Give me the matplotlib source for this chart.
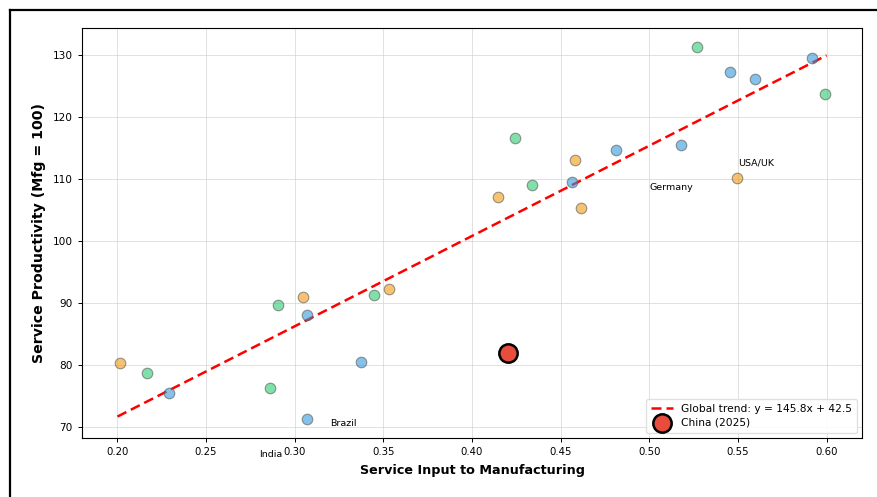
import matplotlib
matplotlib.use("Agg")
import matplotlib.pyplot as plt
import numpy as np
from matplotlib.lines import Line2D

# service input share vs. relative service productivity, by group
blue_x = [0.229, 0.307, 0.307, 0.3375, 0.4565, 0.481, 0.518, 0.5457, 0.5594, 0.592]
blue_y = [75.5, 88.0, 71.3, 80.4, 109.5, 114.7, 115.5, 127.3, 126.1, 129.6]

green_x = [0.2164, 0.2859, 0.2905, 0.3445, 0.4244, 0.4336, 0.5269, 0.5993]
green_y = [78.7, 76.3, 89.6, 91.3, 116.7, 109.0, 131.4, 123.8]

orange_x = [0.2015, 0.3044, 0.3533, 0.4144, 0.4579, 0.4614, 0.5496]
orange_y = [80.3, 90.9, 92.2, 107.05, 113.1, 105.4, 110.1]

china_x, china_y = 0.42, 82.0

slope, intercept = 145.8, 42.5
trend_x = [0.20, 0.60]

labels = ["USA/UK", "Germany", "Brazil", "India"]
label_pos = [(0.55, 112.6), (0.50, 108.6), (0.32, 70.6), (0.28, 65.6)]

fig = plt.figure(figsize=(8.77, 4.97), dpi=100)
ax = fig.add_axes([0.0935, 0.1187, 0.8895, 0.825])

ax.grid(True, color='#cccccc', alpha=0.6, linewidth=0.7)
ax.set_axisbelow(True)

for xs, ys, c in [(blue_x, blue_y, '#3498db'),
                  (green_x, green_y, '#2ecc71'),
                  (orange_x, orange_y, '#f39c12')]:
    ax.scatter(xs, ys, s=58, color=c, alpha=0.6, edgecolors='#555555',
               linewidths=0.8, zorder=3)

tx = np.array(trend_x)
ax.plot(tx, slope * tx + intercept, 'r--', linewidth=1.8, dashes=(4, 2),
        label='Global trend: y = %.1fx + %.1f' % (slope, intercept), zorder=2)

ax.scatter([china_x], [china_y], s=175, color='#e74c3c', edgecolors='black',
           linewidths=1.8, zorder=5, label='China (2025)')

for name, (lx, ly) in zip(labels, label_pos):
    ax.text(lx, ly, name, fontsize=6.8, ha='left', va='center', clip_on=False)

ax.set_xlim(0.18, 0.62)
ax.set_ylim(68.2, 134.4)
ax.set_xticks([0.20, 0.25, 0.30, 0.35, 0.40, 0.45, 0.50, 0.55, 0.60])
ax.set_yticks([70, 80, 90, 100, 110, 120, 130])
ax.tick_params(axis='x', labelsize=7.3, length=3, width=0.7)
ax.tick_params(axis='y', labelsize=7.6, length=3, width=0.7)
for s in ax.spines.values():
    s.set_linewidth(0.8)

ax.set_xlabel('Service Input to Manufacturing', fontsize=9.2, fontweight='bold',
              labelpad=5)
ax.set_ylabel('Service Productivity (Mfg = 100)', fontsize=10.2, fontweight='bold',
              labelpad=5)

ax.legend(loc='lower right', fontsize=7.7, framealpha=0.9, edgecolor='#dddddd',
          borderpad=0.45, handlelength=2.0, labelspacing=0.35)

# frame edge around the figure
top = 1 - 10 / 497
left = 9.5 / 877
fig.add_artist(Line2D([left, 1.0], [top, top], color='black', linewidth=1.6,
                      transform=fig.transFigure))
fig.add_artist(Line2D([left, left], [0.0, top], color='black', linewidth=1.6,
                      transform=fig.transFigure))

fig.savefig('out.png', dpi=100)
